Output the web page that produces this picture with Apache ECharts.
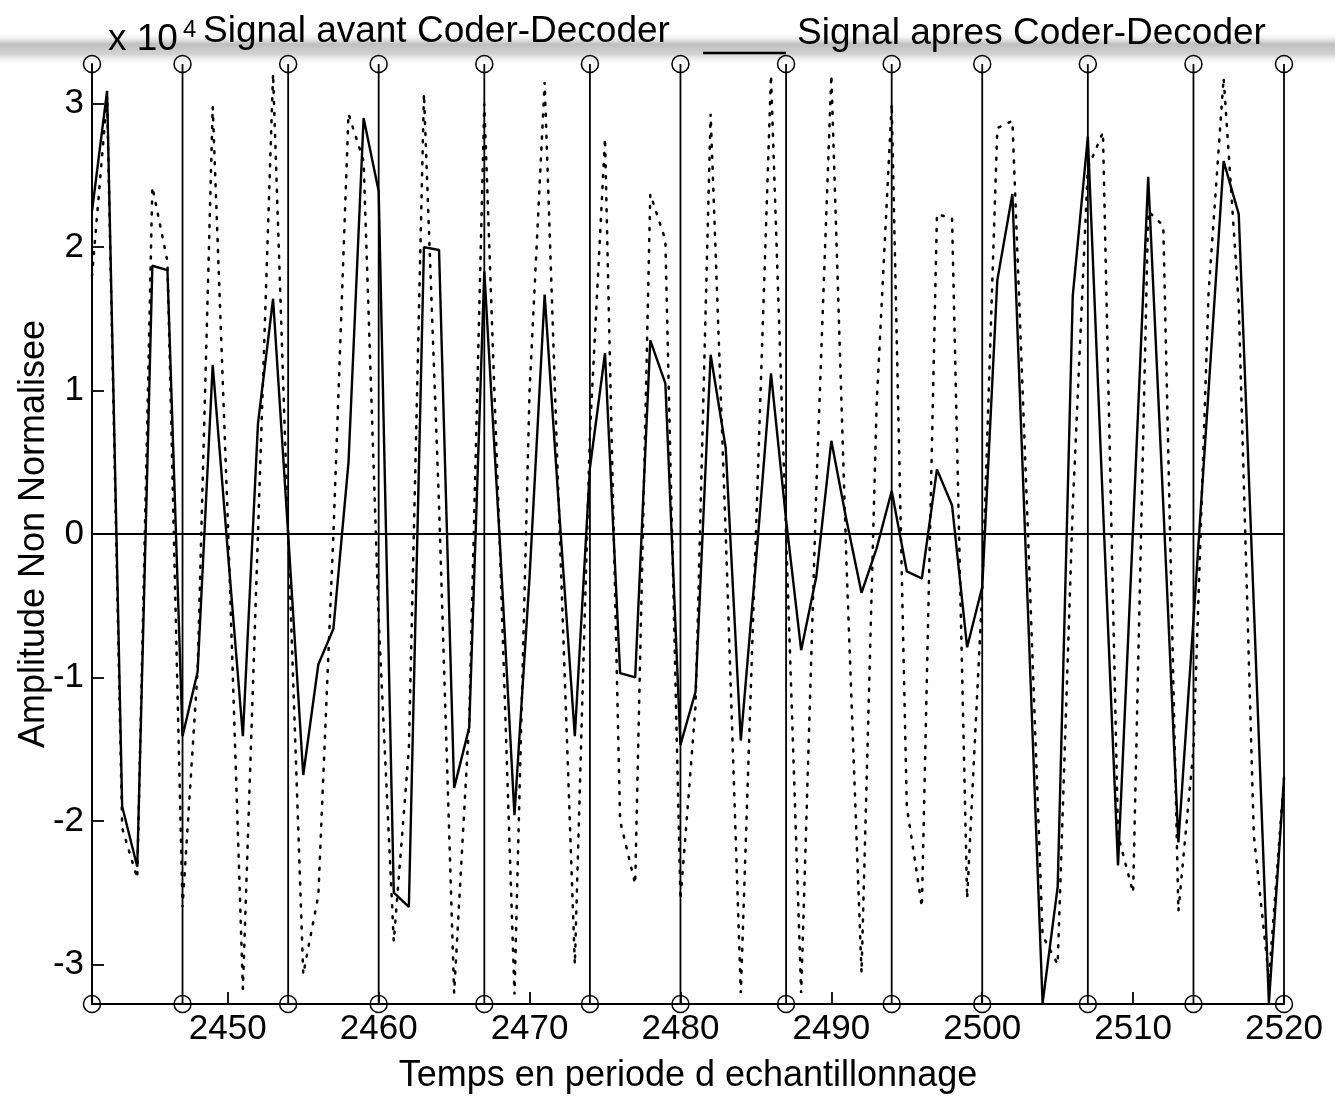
<!DOCTYPE html>
<html>
<head>
<meta charset="utf-8">
<script src="https://cdn.jsdelivr.net/npm/echarts@6/dist/echarts.min.js"></script>
<style>
html, body { margin: 0; padding: 0; background: #fff; }
#container { width: 1335px; height: 1104px; }
</style>
</head>
<body>
<div id="container"></div>
<script>
var dom = document.getElementById("container");
var myChart = echarts.init(dom);

// echantillons 2441 .. 2520, amplitudes en unites de 10^4
var debut = 2441;
var fin = 2520;
var avantCodec = [
	1.8, 3.05, -2.05, -2.4, 2.42, 1.9, -2.6, -0.95, 2.98, 0.1,
	-3.17, 0.0, 3.21, 0.0, -3.07, -2.52, 0.0, 2.93, 2.6, -0.6,
	-2.84, -1.5, 3.07, 0.2, -3.2, -1.3, 3.0, 0.0, -3.21, 1.0,
	3.15, 0.0, -3.0, 0.7, 2.76, -2.0, -2.44, 2.37, 2.05, -2.55,
	-1.2, 2.93, 0.0, -3.2, 0.0, 3.2, 0.0, -3.2, 0.3, 3.2,
	-0.2, -3.06, 0.9, 3.0, -1.9, -2.6, 2.23, 2.2, -2.54, -0.4,
	2.83, 2.88, 0.1, -2.8, -3.0, 0.19, 2.55, 2.8, -2.1, -2.5,
	2.25, 2.15, -2.63, -1.5, 1.68, 3.18, 1.6, -2.1, -3.1, -1.7
];
var apresCodec = [
	2.25, 3.09, -1.9, -2.32, 1.87, 1.84, -1.41, -0.96, 1.18, -0.12,
	-1.41, 0.77, 1.64, 0.0, -1.68, -0.91, -0.66, 0.5, 2.9, 2.39,
	-2.5, -2.6, 2.0, 1.98, -1.77, -1.35, 1.83, 0.0, -1.96, -0.3,
	1.67, 0.1, -1.41, 0.46, 1.26, -0.97, -1.0, 1.35, 1.05, -1.47,
	-1.1, 1.25, 0.6, -1.44, -0.2, 1.12, 0.1, -0.81, -0.3, 0.65,
	0.1, -0.41, -0.1, 0.3, -0.26, -0.31, 0.45, 0.2, -0.79, -0.37,
	1.77, 2.37, -0.45, -3.27, -2.46, 1.66, 2.77, 0.2, -2.31, 0.05,
	2.49, 0.2, -2.15, -0.6, 1.0, 2.6, 2.23, -0.5, -3.27, -1.7
];
// traits verticaux marques par des cercles
var marques = [2441, 2447, 2454, 2460, 2467, 2474, 2480, 2487, 2494, 2500, 2507, 2514, 2520];
var pleineEchelle = 3.2767;
var xTicks = [2450, 2460, 2470, 2480, 2490, 2500, 2510, 2520];
var yTicks = [-3, -2, -1, 0, 1, 2, 3];

var font = 'Liberation Sans';

var dataAvant = [];
var dataApres = [];
for (var i = 0; i < avantCodec.length; i++) {
	dataAvant.push([debut + i, avantCodec[i]]);
	dataApres.push([debut + i, apresCodec[i]]);
}

var series = [{
	name: 'avant',
	type: 'line',
	data: dataAvant,
	showSymbol: false,
	z: 2,
	lineStyle: { color: '#000', width: 2.5, type: [2, 9], cap: 'round' }
}, {
	name: 'apres',
	type: 'line',
	data: dataApres,
	showSymbol: false,
	z: 3,
	lineStyle: { color: '#000', width: 2.4 }
}, {
	name: 'zero',
	type: 'line',
	data: [[debut, 0], [fin, 0]],
	showSymbol: false,
	z: 3,
	lineStyle: { color: '#000', width: 1.8 }
}];

marques.forEach(function (t) {
	series.push({
		type: 'line',
		data: [[t, -pleineEchelle], [t, pleineEchelle]],
		symbol: 'circle',
		symbolSize: 17,
		showSymbol: true,
		clip: false,
		z: 4,
		itemStyle: { color: 'rgba(0,0,0,0)', borderColor: '#000', borderWidth: 1.5 },
		lineStyle: { color: '#000', width: 1.8 }
	});
});

option = {
	animation: false,
	backgroundColor: '#fff',
	grid: { left: 92, top: 64, width: 1192, height: 940 },
	xAxis: {
		type: 'value',
		min: debut,
		max: fin,
		name: 'Temps en periode d echantillonnage',
		nameLocation: 'middle',
		nameGap: 54,
		nameMoveOverlap: false,
		nameTextStyle: { fontFamily: font, fontSize: 36, color: '#000' },
		axisLine: { show: true, onZero: false, lineStyle: { color: '#000', width: 1.8 } },
		axisTick: { show: true, inside: true, length: 12, customValues: xTicks, lineStyle: { color: '#000', width: 1.8 } },
		axisLabel: {
			customValues: xTicks, margin: 8, fontFamily: font, fontSize: 35, color: '#000',
			formatter: function (v) { return String(v); }
		},
		splitLine: { show: false }
	},
	yAxis: {
		type: 'value',
		min: -pleineEchelle,
		max: pleineEchelle,
		name: 'Amplitude Non Normalisee',
		nameLocation: 'middle',
		nameGap: 40,
		nameMoveOverlap: false,
		nameRotate: 90,
		nameTextStyle: { fontFamily: font, fontSize: 36, color: '#000' },
		axisLine: { show: true, onZero: false, lineStyle: { color: '#000', width: 1.8 } },
		axisTick: { show: true, inside: true, length: 12, customValues: yTicks, lineStyle: { color: '#000', width: 1.8 } },
		axisLabel: { customValues: yTicks, margin: 8, fontFamily: font, fontSize: 35, color: '#000' },
		splitLine: { show: false }
	},
	graphic: [{
		type: 'rect',
		z: 0,
		shape: { x: 0, y: 32, width: 1335, height: 34 },
		style: {
			fill: new echarts.graphic.LinearGradient(0, 0, 0, 1, [
				{ offset: 0, color: 'rgba(255,255,255,0)' },
				{ offset: 0.35, color: '#bfbfbf' },
				{ offset: 0.65, color: '#d2d2d2' },
				{ offset: 1, color: 'rgba(255,255,255,0)' }
			])
		}
	}, {
		type: 'text',
		z: 10,
		style: { text: 'x 10', x: 108, y: 58, textVerticalAlign: 'bottom', font: '37px ' + font, fill: '#000' }
	}, {
		type: 'text',
		z: 10,
		style: { text: '4', x: 183, y: 42, textVerticalAlign: 'bottom', font: '24px ' + font, fill: '#000' }
	}, {
		type: 'text',
		z: 10,
		style: { text: 'Signal avant Coder-Decoder', x: 203, y: 50, textVerticalAlign: 'bottom', font: '37px ' + font, fill: '#000' }
	}, {
		type: 'line',
		z: 10,
		shape: { x1: 703, y1: 53, x2: 786, y2: 53 },
		style: { stroke: '#000', lineWidth: 2.5 }
	}, {
		type: 'text',
		z: 10,
		style: { text: 'Signal apres Coder-Decoder', x: 797, y: 52, textVerticalAlign: 'bottom', font: '37px ' + font, fill: '#000' }
	}],
	series: series
};

if (option && typeof option === "object") {
	myChart.setOption(option, true);
}
</script>
</body>
</html>
